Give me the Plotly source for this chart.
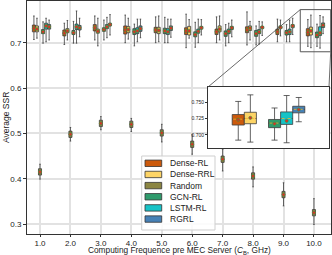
import plotly.graph_objects as go

# ---------------- data ----------------
FREQS = [1.0, 2.0, 3.0, 4.0, 5.0, 6.0, 7.0, 8.0, 9.0, 10.0]
TICK_LABELS = ["1.0", "2.0", "3.0", "4.0", "5.0", "6.0", "7.0", "8.0", "9.0", "10.0"]
SERIES = ["Dense-RL", "Dense-RRL", "Random", "GCN-RL", "LSTM-RL", "RGRL"]
COLORS = ["#cc5a0c", "#fdd466", "#8b8542", "#2f9b6c", "#17c3c7", "#4681b6"]
OFFSETS = [-0.2, -0.1, 0.0, 0.1, 0.2, 0.3]
X_TITLE = "Computing Frequence pre MEC Server (<i>C</i><sub>B</sub>, GHz)"
Y_TITLE = "Average SSR"

DRL_Q1 = [0.724, 0.715, 0.726, 0.719, 0.722, 0.718, 0.718, 0.722, 0.718, 0.715]
DRL_MED = [0.731, 0.722, 0.734, 0.727, 0.728, 0.725, 0.723, 0.729, 0.723, 0.724]
DRL_Q3 = [0.739, 0.728, 0.740, 0.737, 0.734, 0.733, 0.730, 0.735, 0.730, 0.731]
DRL_LO = [0.707, 0.696, 0.706, 0.700, 0.700, 0.689, 0.700, 0.695, 0.702, 0.692]
DRL_HI = [0.759, 0.743, 0.759, 0.761, 0.757, 0.763, 0.757, 0.768, 0.752, 0.751]
DRL_MEAN = [0.732, 0.721, 0.733, 0.728, 0.728, 0.726, 0.724, 0.728, 0.724, 0.723]

DRRL_Q1 = [0.724, 0.722, 0.721, 0.722, 0.720, 0.717, 0.724, 0.727, 0.731, 0.717]
DRRL_MED = [0.731, 0.727, 0.726, 0.728, 0.727, 0.727, 0.731, 0.731, 0.734, 0.725]
DRRL_Q3 = [0.737, 0.731, 0.730, 0.736, 0.734, 0.736, 0.737, 0.737, 0.737, 0.7345]
DRRL_LO = [0.710, 0.706, 0.693, 0.708, 0.702, 0.710, 0.706, 0.706, 0.715, 0.689]
DRRL_HI = [0.754, 0.749, 0.754, 0.754, 0.759, 0.751, 0.759, 0.747, 0.750, 0.761]
DRRL_MEAN = [0.730, 0.726, 0.725, 0.729, 0.727, 0.726, 0.730, 0.732, 0.734, 0.726]

RND_Q1 = [0.408, 0.491, 0.515, 0.513, 0.494, 0.469, 0.436, 0.399, 0.358, 0.318]
RND_MED = [0.415, 0.498, 0.522, 0.520, 0.501, 0.476, 0.443, 0.406, 0.365, 0.325]
RND_Q3 = [0.422, 0.505, 0.529, 0.527, 0.508, 0.483, 0.450, 0.413, 0.372, 0.332]
RND_LO = [0.399, 0.483, 0.508, 0.504, 0.481, 0.454, 0.417, 0.382, 0.340, 0.299]
RND_HI = [0.432, 0.513, 0.537, 0.533, 0.520, 0.497, 0.465, 0.426, 0.391, 0.356]
RND_MEAN = [0.415, 0.498, 0.522, 0.520, 0.501, 0.476, 0.443, 0.406, 0.365, 0.325]

GCN_Q1 = [0.720, 0.718, 0.725, 0.718, 0.720, 0.713, 0.714, 0.714, 0.717, 0.711]
GCN_MED = [0.725, 0.723, 0.728, 0.725, 0.726, 0.719, 0.720, 0.721, 0.721, 0.718]
GCN_Q3 = [0.729, 0.727, 0.733, 0.731, 0.732, 0.724, 0.726, 0.727, 0.727, 0.7235]
GCN_LO = [0.699, 0.699, 0.706, 0.693, 0.700, 0.690, 0.693, 0.695, 0.702, 0.692]
GCN_HI = [0.746, 0.747, 0.750, 0.741, 0.756, 0.745, 0.740, 0.737, 0.740, 0.741]
GCN_MEAN = [0.724, 0.722, 0.729, 0.724, 0.726, 0.718, 0.720, 0.720, 0.722, 0.717]

LSTM_Q1 = [0.730, 0.729, 0.731, 0.720, 0.718, 0.721, 0.720, 0.720, 0.718, 0.716]
LSTM_MED = [0.736, 0.736, 0.736, 0.727, 0.725, 0.726, 0.724, 0.725, 0.723, 0.725]
LSTM_Q3 = [0.743, 0.741, 0.740, 0.733, 0.731, 0.730, 0.730, 0.729, 0.730, 0.735]
LSTM_LO = [0.702, 0.699, 0.711, 0.702, 0.700, 0.700, 0.700, 0.697, 0.702, 0.688]
LSTM_HI = [0.754, 0.770, 0.756, 0.752, 0.752, 0.752, 0.743, 0.747, 0.750, 0.760]
LSTM_MEAN = [0.737, 0.735, 0.735, 0.726, 0.724, 0.725, 0.725, 0.724, 0.724, 0.7215]

RGRL_Q1 = [0.730, 0.728, 0.737, 0.725, 0.727, 0.730, 0.729, 0.731, 0.733, 0.7336]
RGRL_MED = [0.735, 0.733, 0.740, 0.731, 0.732, 0.733, 0.732, 0.733, 0.736, 0.739]
RGRL_Q3 = [0.740, 0.738, 0.743, 0.737, 0.737, 0.736, 0.736, 0.736, 0.740, 0.7436]
RGRL_LO = [0.706, 0.713, 0.717, 0.711, 0.712, 0.717, 0.713, 0.716, 0.718, 0.720]
RGRL_HI = [0.750, 0.754, 0.762, 0.752, 0.752, 0.751, 0.750, 0.746, 0.754, 0.757]
RGRL_MEAN = [0.735, 0.733, 0.740, 0.731, 0.732, 0.733, 0.733, 0.734, 0.737, 0.7386]

STATS = [
    (DRL_Q1, DRL_MED, DRL_Q3, DRL_LO, DRL_HI, DRL_MEAN),
    (DRRL_Q1, DRRL_MED, DRRL_Q3, DRRL_LO, DRRL_HI, DRRL_MEAN),
    (RND_Q1, RND_MED, RND_Q3, RND_LO, RND_HI, RND_MEAN),
    (GCN_Q1, GCN_MED, GCN_Q3, GCN_LO, GCN_HI, GCN_MEAN),
    (LSTM_Q1, LSTM_MED, LSTM_Q3, LSTM_LO, LSTM_HI, LSTM_MEAN),
    (RGRL_Q1, RGRL_MED, RGRL_Q3, RGRL_LO, RGRL_HI, RGRL_MEAN),
]

# ---------------- layout constants ----------------
W, H = 332, 255
ML, MR, MT, MB = 27, 1, 1, 21
PW, PH = W - ML - MR, H - MT - MB
XR = [0.573, 10.56]
YR = [0.278, 0.792]
IX = [9.55, 10.55]
IY = [0.680, 0.773]
INSET_PX = (208, 87, 329, 148)  # left, top, right, bottom in pixels
BOXW = 0.1
FONT = "Liberation Sans, Arial, sans-serif"


def px(X):
    return (X - ML) / PW


def py(Y):
    return (H - MB - Y) / PH


def dx2paper(v):
    return (v - XR[0]) / (XR[1] - XR[0])


def dy2paper(v):
    return (v - YR[0]) / (YR[1] - YR[0])


inset_dom_x = [px(INSET_PX[0]), px(INSET_PX[2])]
inset_dom_y = [py(INSET_PX[3]), py(INSET_PX[1])]

fig = go.Figure()

for xa, ya in [("x", "y"), ("x2", "y2")]:
    for name, color, off, st in zip(SERIES, COLORS, OFFSETS, STATS):
        q1, med, q3, lo, hi, mean = st
        pos = [f + off for f in FREQS]
        fig.add_trace(go.Box(
            x=pos, q1=q1, median=med, q3=q3, lowerfence=lo, upperfence=hi,
            width=BOXW, whiskerwidth=0.5, fillcolor=color,
            line=dict(color="#3c3c3c", width=0.8),
            name=name, showlegend=False, hoverinfo="skip",
            xaxis=xa, yaxis=ya,
        ))
        mx, my = [], []
        for p, m in zip(pos, med):
            mx += [p - BOXW / 2 + 0.008, p + BOXW / 2 - 0.008, None]
            my += [m, m, None]
        fig.add_trace(go.Scatter(x=mx, y=my, mode="lines",
                                 line=dict(color=color, width=1.6),
                                 showlegend=False, hoverinfo="skip", xaxis=xa, yaxis=ya))
        fig.add_trace(go.Scatter(x=mx, y=my, mode="lines",
                                 line=dict(color="#f2b62f", width=0.8, dash="dot"),
                                 showlegend=False, hoverinfo="skip", xaxis=xa, yaxis=ya))
        fig.add_trace(go.Scatter(
            x=pos, y=mean, mode="markers",
            marker=dict(symbol="circle", size=3.2, color="#d8302a",
                        line=dict(color="#3a9a3a", width=0.6)),
            showlegend=False, hoverinfo="skip", xaxis=xa, yaxis=ya))

axis_common = dict(showline=True, mirror=True, linecolor="#333333", linewidth=1,
                   zeroline=False, automargin=False)

fig.update_layout(
    width=W, height=H,
    margin=dict(l=ML, r=MR, t=MT, b=MB),
    paper_bgcolor="white", plot_bgcolor="white",
    boxmode="overlay",
    font=dict(family=FONT, size=8, color="#222222"),
    showlegend=False,
    xaxis=dict(range=XR, tickvals=FREQS, ticktext=TICK_LABELS,
               ticks="outside", ticklen=1.5, tickcolor="#333333",
               showgrid=True, gridcolor="#e2e2e2", gridwidth=1.5,
               tickfont=dict(size=8), **axis_common),
    yaxis=dict(range=YR, tickvals=[0.3, 0.4, 0.5, 0.6, 0.7],
               ticktext=["0.3", "0.4", "0.5", "0.6", "0.7"],
               ticks="outside", ticklen=3, tickcolor="#333333",
               showgrid=True, gridcolor="#e2e2e2", gridwidth=1.5,
               tickfont=dict(size=8), **axis_common),
    xaxis2=dict(domain=inset_dom_x, anchor="y2", range=IX, showticklabels=False,
                showgrid=False, ticks="", **axis_common),
    yaxis2=dict(domain=inset_dom_y, anchor="x2", range=IY,
                tickvals=[0.700, 0.725, 0.750], ticktext=["0.700", "0.725", "0.750"],
                ticks="outside", ticklen=2, tickcolor="#333333",
                tickfont=dict(size=5), showgrid=False, **axis_common),
)

shapes = []
shapes.append(dict(type="rect", xref="x", yref="y", x0=IX[0], x1=IX[1], y0=IY[0], y1=IY[1],
                   line=dict(color="#555555", width=1)))
shapes.append(dict(type="line", xref="paper", yref="paper",
                   x0=dx2paper(IX[0]), y0=dy2paper(IY[1]),
                   x1=inset_dom_x[0], y1=inset_dom_y[1],
                   line=dict(color="#444444", width=0.8)))
shapes.append(dict(type="line", xref="paper", yref="paper",
                   x0=dx2paper(IX[1]), y0=dy2paper(IY[0]),
                   x1=inset_dom_x[1], y1=inset_dom_y[1],
                   line=dict(color="#444444", width=0.8)))

LEG_L, LEG_T, LEG_R, LEG_B = 141.7, 156, 215, 230
shapes.append(dict(type="rect", xref="paper", yref="paper",
                   x0=px(LEG_L), x1=px(LEG_R), y0=py(LEG_B), y1=py(LEG_T),
                   fillcolor="rgba(255,255,255,0.85)", line=dict(color="#cfcfcf", width=1)))
annotations = []
for i, (name, color) in enumerate(zip(SERIES, COLORS)):
    yc = 163.3 + i * 11.15
    shapes.append(dict(type="rect", xref="paper", yref="paper",
                       x0=px(145), x1=px(161.7), y0=py(yc + 3.2), y1=py(yc - 3.2),
                       fillcolor=color, line=dict(color="#333333", width=0.8)))
    annotations.append(dict(xref="paper", yref="paper", x=px(167.5), y=py(yc),
                            xanchor="left", yanchor="middle", text=name, showarrow=False,
                            font=dict(size=8.5, color="#222222")))

# axis titles
annotations.append(dict(xref="paper", yref="paper", x=0.5, y=py(250.5),
                        xanchor="center", yanchor="middle", text=X_TITLE, showarrow=False,
                        font=dict(size=8.3, color="#222222")))
annotations.append(dict(xref="paper", yref="paper", x=px(5.5), y=0.5,
                        xanchor="center", yanchor="middle", text=Y_TITLE, showarrow=False,
                        textangle=-90, font=dict(size=8.5, color="#222222")))

fig.update_layout(shapes=shapes, annotations=annotations)

fig.write_html("out.html", config={"displayModeBar": False},
               post_script="document.body.style.margin='0';document.body.style.overflow='hidden';")
